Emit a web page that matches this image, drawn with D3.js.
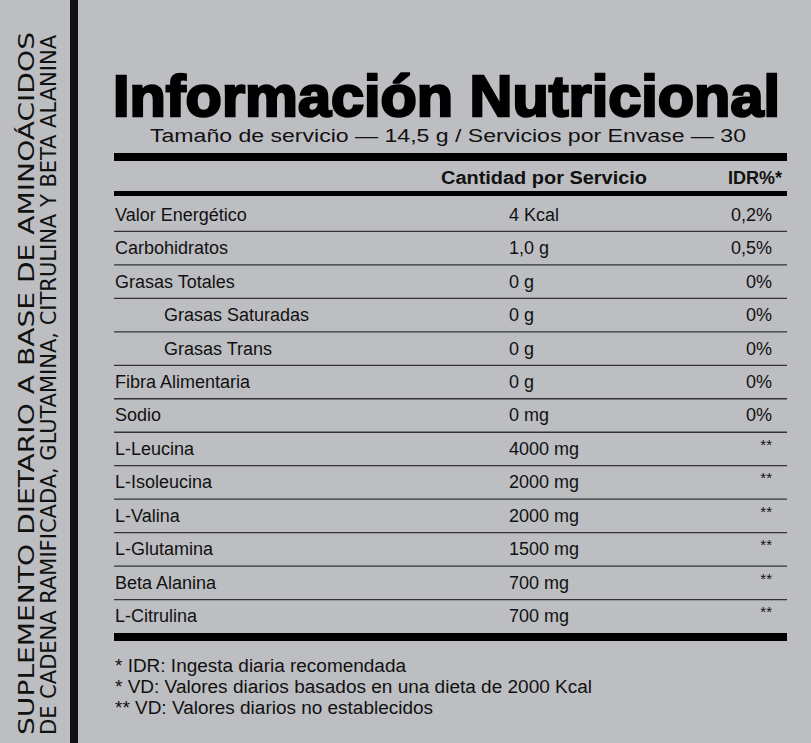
<!DOCTYPE html>
<html><head><meta charset="utf-8">
<script src="https://cdn.jsdelivr.net/npm/d3@7"></script>
<style>body{margin:0;background:#bdbec2}svg{display:block}</style>
</head><body>
<script>
const nutrients = ["Valor Energético","Carbohidratos","Grasas Totales","Grasas Saturadas","Grasas Trans","Fibra Alimentaria","Sodio","L-Leucina","L-Isoleucina","L-Valina","L-Glutamina","Beta Alanina","L-Citrulina"];
const amounts = ["4 Kcal","1,0 g","0 g","0 g","0 g","0 g","0 mg","4000 mg","2000 mg","2000 mg","1500 mg","700 mg","700 mg"];
const idr = ["0,2%","0,5%","0%","0%","0%","0%","0%","**","**","**","**","**","**"];
const indented = ["Grasas Saturadas","Grasas Trans"];
const footnotes = ["* IDR: Ingesta diaria recomendada","* VD: Valores diarios basados en una dieta de 2000 Kcal","** VD: Valores diarios no establecidos"];
const sideText = ["SUPLEMENTO DIETARIO A BASE DE AMINOÁCIDOS","DE CADENA RAMIFICADA, GLUTAMINA, CITRULINA Y BETA ALANINA"];

const W=811,H=743;
const svg=d3.select("body").append("svg").attr("width",W).attr("height",H);
svg.append("rect").attr("width",W).attr("height",H).attr("fill","#bdbec2");
const F="'Liberation Sans', Arial, sans-serif";
svg.append("rect").attr("x",70).attr("y",0).attr("width",8).attr("height",H).attr("fill","#111");
sideText.forEach((t,i)=>{
  const x=[34,56][i];
  svg.append("text").attr("transform",`translate(${x},735) rotate(-90)`)
    .attr("font-family","'Liberation Sans Narrow','DejaVu Sans Condensed',sans-serif").attr("font-size",22)
    .attr("textLength",[703,700][i]).attr("lengthAdjust","spacingAndGlyphs")
    .attr("fill","#111").text(t);
});
svg.append("text").attr("x",113).attr("y",116).attr("font-family",F).attr("font-weight","bold")
  .attr("font-size",58).attr("textLength",667).attr("lengthAdjust","spacingAndGlyphs").attr("fill","#000")
  .style("stroke","#000").style("stroke-width",2.5).text("Información Nutricional");
svg.append("text").attr("x",448).attr("y",142).attr("text-anchor","middle").attr("font-family",F)
  .attr("font-size",18).attr("textLength",596).attr("lengthAdjust","spacingAndGlyphs").attr("fill","#111")
  .text("Tamaño de servicio — 14,5 g / Servicios por Envase — 30");
const x0=114,x1=787;
svg.append("rect").attr("x",x0).attr("y",153).attr("width",x1-x0).attr("height",8).attr("fill","#000");
svg.append("text").attr("x",441).attr("y",184).attr("font-family",F).attr("font-weight","bold").attr("font-size",18)
  .attr("textLength",206).attr("lengthAdjust","spacingAndGlyphs").attr("fill","#111").text("Cantidad por Servicio");
svg.append("text").attr("x",782).attr("y",184).attr("text-anchor","end").attr("font-family",F).attr("font-weight","bold").attr("font-size",18).attr("fill","#111").text("IDR%*");
svg.append("rect").attr("x",x0).attr("y",191).attr("width",x1-x0).attr("height",5).attr("fill","#000");

const y=d3.scaleBand().domain(nutrients).range([198,633]);
const g=svg.append("g").attr("font-family",F).attr("font-size",18).attr("fill","#111");
const rows=g.selectAll("g.r").data(nutrients).join("g").attr("transform",d=>`translate(0,${y(d)})`);
rows.append("text").attr("x",d=>indented.includes(d)?164:115).attr("y",y.bandwidth()/2+6).text(d=>d);
rows.append("text").attr("x",509).attr("y",y.bandwidth()/2+6).text((d,i)=>amounts[i]);
rows.append("text").attr("x",772).attr("y",y.bandwidth()/2+6).attr("text-anchor","end")
  .attr("font-size",(d,i)=>idr[i]==="**"?15:18).attr("dy",(d,i)=>idr[i]==="**"?-5:0).text((d,i)=>idr[i]);
rows.filter((d,i)=>i<nutrients.length-1).append("line").attr("x1",x0).attr("x2",x1)
  .attr("y1",y.bandwidth()).attr("y2",y.bandwidth()).attr("stroke","#333").attr("stroke-width",1.3);
svg.append("rect").attr("x",x0).attr("y",633).attr("width",x1-x0).attr("height",8).attr("fill","#000");
const fl=[291,477,318];
footnotes.forEach((t,i)=>svg.append("text").attr("x",115).attr("y",672+i*21).attr("font-family",F).attr("font-size",18)
  .attr("textLength",fl[i]).attr("lengthAdjust","spacingAndGlyphs").attr("fill","#111").text(t));
</script>
</body></html>
